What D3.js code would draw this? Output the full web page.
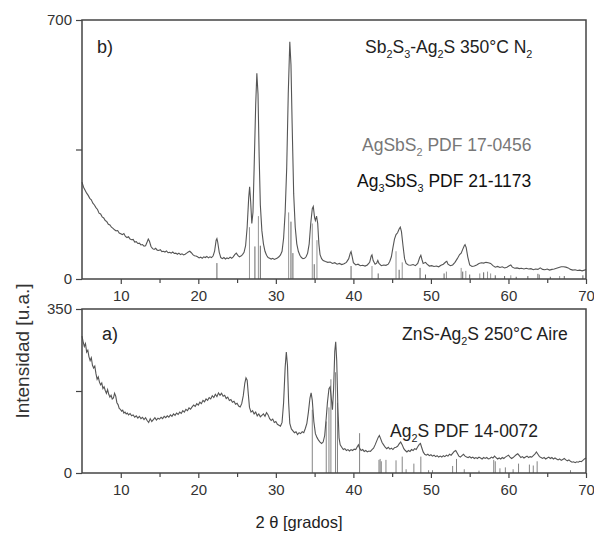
<!DOCTYPE html>
<html>
<head>
<meta charset="utf-8">
<script src="https://cdnjs.cloudflare.com/ajax/libs/d3/7.8.5/d3.min.js"></script>
<style>
  body { margin: 0; background: #fff; }
  svg { font-family: "Liberation Sans", Arial, sans-serif; }
</style>
</head>
<body>
<script>
// tick values
var xMajor = [10, 20, 30, 40, 50, 60, 70];
var xMinor = [15, 25, 35, 45, 55, 65];
var yTicksB = [0, 350, 700];
var yTicksA = [0, 175, 350];

// b) Sb2S3-Ag2S 350C N2  [2theta, counts]
var patternB = [
  [5.0,262],[5.2,248],[5.4,240],[5.6,232],[5.8,226],[6.0,218],[6.2,214],[6.4,205],[6.6,200],[6.8,193],
  [7.0,188],[7.2,178],[7.4,176],[7.6,168],[7.8,165],[8.0,158],[8.2,155],[8.4,148],[8.6,146],[8.8,140],
  [9.0,137],[9.2,133],[9.4,130],[9.6,131],[9.8,124],[10.0,122],[10.2,120],[10.4,123],[10.6,115],[10.8,112],
  [11.0,114],[11.2,108],[11.4,106],[11.6,107],[11.8,100],[12.0,101],[12.2,96],[12.4,97],[12.6,92],[12.8,93],
  [13.0,89],[13.2,90],[13.4,100],[13.55,108],[13.7,102],[13.9,88],[14.1,82],[14.3,80],[14.5,83],[14.7,78],
  [14.9,77],[15.1,79],[15.3,74],[15.5,75],[15.7,73],[15.9,76],[16.1,71],[16.3,72],[16.5,70],[16.7,73],
  [16.9,69],[17.1,70],[17.3,67],[17.5,70],[17.7,66],[17.9,68],[18.1,65],[18.3,67],[18.5,70],[18.7,73],
  [18.9,75],[19.1,71],[19.3,66],[19.5,63],[19.7,62],[19.9,60],[20.1,57],[20.3,59],[20.5,56],[20.7,60],
  [20.9,58],[21.1,61],[21.3,57],[21.5,60],[21.7,58],[21.9,62],[22.1,75],[22.3,105],[22.4,109],[22.5,100],
  [22.7,72],[22.9,58],[23.1,55],[23.3,58],[23.5,54],[23.7,57],[23.9,55],[24.1,59],[24.3,56],[24.5,60],
  [24.7,66],[24.9,70],[25.1,64],[25.3,60],[25.5,62],[25.7,66],[25.9,72],[26.1,90],[26.3,140],[26.5,220],
  [26.62,249],[26.75,210],[26.9,150],[27.05,180],[27.2,300],[27.4,470],[27.55,556],[27.7,500],[27.85,330],[28.0,200],
  [28.2,130],[28.4,95],[28.6,75],[28.8,64],[29.0,58],[29.2,56],[29.4,54],[29.6,56],[29.8,53],[30.0,55],
  [30.2,57],[30.4,60],[30.6,65],[30.8,75],[31.0,110],[31.2,180],[31.4,300],[31.6,500],[31.8,641],[31.95,580],
  [32.1,420],[32.3,230],[32.5,140],[32.7,95],[32.9,75],[33.1,64],[33.3,58],[33.5,55],[33.7,56],[33.9,60],
  [34.1,70],[34.3,95],[34.5,150],[34.7,190],[34.83,196],[35.0,165],[35.1,158],[35.25,170],[35.4,150],[35.55,95],
  [35.7,66],[35.9,55],[36.1,50],[36.4,47],[36.7,45],[37.0,46],[37.3,42],[37.6,44],[37.9,40],[38.2,42],
  [38.5,39],[38.8,41],[39.1,45],[39.4,55],[39.6,70],[39.7,74],[39.85,60],[40.0,44],[40.3,38],[40.6,40],
  [40.9,36],[41.2,37],[41.5,35],[41.8,38],[42.1,45],[42.3,62],[42.4,65],[42.55,50],[42.8,40],[43.0,43],
  [43.15,50],[43.3,42],[43.6,36],[43.9,38],[44.2,37],[44.5,40],[44.7,48],[44.9,60],[45.1,85],[45.3,108],
  [45.5,120],[45.7,125],[45.9,135],[46.05,140],[46.2,128],[46.4,90],[46.6,55],[46.8,42],[47.1,38],[47.4,37],
  [47.7,39],[48.0,36],[48.3,42],[48.55,58],[48.7,64],[48.85,52],[49.0,42],[49.3,45],[49.5,40],[49.8,35],
  [50.1,36],[50.4,34],[50.7,35],[51.0,33],[51.3,37],[51.6,40],[51.9,46],[52.05,48],[52.2,40],[52.5,36],
  [52.8,38],[53.1,45],[53.4,55],[53.7,66],[53.9,70],[54.1,80],[54.3,90],[54.4,93],[54.55,85],[54.75,60],
  [55.0,38],[55.3,34],[55.6,35],[55.9,38],[56.2,42],[56.5,44],[56.8,43],[57.1,45],[57.4,44],[57.7,42],
  [58.0,36],[58.3,32],[58.6,34],[58.9,31],[59.2,33],[59.5,30],[59.8,32],[60.1,36],[60.3,38],[60.5,32],
  [60.8,29],[61.1,30],[61.4,28],[61.7,29],[62.0,27],[62.3,29],[62.6,27],[62.9,28],[63.2,25],[63.5,27],
  [63.8,26],[64.1,30],[64.4,26],[64.7,25],[65.0,27],[65.3,24],[65.6,26],[65.9,27],[66.2,29],[66.5,31],
  [66.8,33],[67.1,33],[67.4,32],[67.7,30],[68.0,26],[68.3,24],[68.6,25],[68.9,23],[69.2,24],[69.5,22],
  [69.8,24],[70.0,26]
];

// a) ZnS-Ag2S 250C Aire
var patternA = [
  [5.0,292],[5.15,280],[5.3,270],[5.45,276],[5.6,258],[5.75,262],[5.9,248],[6.05,240],[6.2,246],[6.35,230],
  [6.5,224],[6.65,228],[6.8,212],[6.95,200],[7.1,205],[7.25,194],[7.4,188],[7.55,192],[7.7,180],[7.85,184],
  [8.0,176],[8.15,170],[8.3,178],[8.45,168],[8.6,162],[8.75,166],[8.9,158],[9.05,160],[9.2,170],[9.35,164],
  [9.5,150],[9.65,146],[9.8,138],[9.95,136],[10.1,132],[10.25,134],[10.4,128],[10.55,130],[10.7,126],[10.85,128],
  [11.0,124],[11.2,127],[11.4,122],[11.6,124],[11.8,119],[12.0,122],[12.2,117],[12.4,121],[12.6,116],[12.8,119],
  [13.0,114],[13.2,118],[13.4,112],[13.6,108],[13.8,116],[14.0,110],[14.2,114],[14.4,118],[14.6,113],[14.8,117],
  [15.0,115],[15.2,119],[15.4,116],[15.6,121],[15.8,118],[16.0,122],[16.2,119],[16.4,124],[16.6,121],[16.8,126],
  [17.0,123],[17.2,128],[17.4,125],[17.6,130],[17.8,127],[18.0,133],[18.2,130],[18.4,136],[18.6,133],[18.8,139],
  [19.0,136],[19.2,141],[19.4,145],[19.6,142],[19.8,148],[20.0,145],[20.2,151],[20.4,148],[20.6,155],[20.8,152],
  [21.0,158],[21.2,155],[21.4,161],[21.6,158],[21.8,165],[22.0,161],[22.2,168],[22.4,163],[22.6,171],[22.8,166],
  [23.0,170],[23.2,164],[23.4,166],[23.6,159],[23.8,162],[24.0,155],[24.2,157],[24.4,151],[24.6,153],[24.8,147],
  [25.0,149],[25.2,143],[25.4,141],[25.6,148],[25.8,165],[26.0,192],[26.15,203],[26.3,198],[26.45,168],[26.6,140],
  [26.8,130],[27.0,133],[27.2,126],[27.4,130],[27.6,122],[27.8,126],[28.0,120],[28.2,123],[28.4,126],[28.6,121],
  [28.8,129],[29.0,124],[29.2,116],[29.4,112],[29.6,115],[29.8,108],[30.0,110],[30.2,104],[30.4,102],[30.6,100],
  [30.8,108],[31.0,150],[31.2,225],[31.35,258],[31.5,230],[31.65,150],[31.8,106],[32.0,94],[32.2,90],[32.4,86],
  [32.6,88],[32.8,82],[33.0,86],[33.2,84],[33.4,88],[33.6,86],[33.8,95],[34.0,106],[34.2,130],[34.4,160],
  [34.55,171],[34.7,155],[34.9,110],[35.1,84],[35.3,76],[35.5,70],[35.7,66],[35.9,63],[36.1,66],[36.3,80],
  [36.5,118],[36.65,150],[36.85,180],[37.0,184],[37.15,160],[37.3,135],[37.45,180],[37.6,260],[37.72,280],[37.85,240],
  [38.0,140],[38.15,75],[38.3,60],[38.5,55],[38.7,50],[38.9,52],[39.1,48],[39.3,50],[39.5,47],[39.7,50],
  [39.9,48],[40.1,51],[40.3,50],[40.5,56],[40.65,60],[40.8,53],[41.0,48],[41.2,50],[41.4,46],[41.6,48],
  [41.8,45],[42.0,47],[42.2,46],[42.4,50],[42.6,53],[42.8,60],[43.0,68],[43.2,76],[43.35,80],[43.5,74],
  [43.7,65],[43.9,60],[44.1,55],[44.3,52],[44.5,55],[44.7,51],[44.9,53],[45.1,50],[45.3,54],[45.5,55],
  [45.7,57],[45.9,62],[46.1,66],[46.3,60],[46.5,52],[46.7,48],[46.9,45],[47.1,48],[47.3,46],[47.5,50],
  [47.7,48],[47.9,52],[48.1,50],[48.3,56],[48.5,61],[48.65,63],[48.8,55],[49.0,45],[49.2,40],[49.4,38],
  [49.6,40],[49.8,37],[50.0,39],[50.2,36],[50.4,38],[50.6,35],[50.8,37],[51.0,34],[51.2,36],[51.4,34],
  [51.6,37],[51.8,35],[52.0,38],[52.2,36],[52.4,40],[52.6,38],[52.8,42],[53.0,46],[53.2,48],[53.4,42],
  [53.6,36],[53.8,34],[54.0,37],[54.2,40],[54.4,36],[54.6,34],[54.8,33],[55.0,35],[55.2,32],[55.4,34],
  [55.6,31],[55.8,33],[56.0,31],[56.2,34],[56.4,32],[56.6,30],[56.8,33],[57.0,31],[57.2,33],[57.4,30],
  [57.6,31],[57.8,34],[58.0,32],[58.2,36],[58.4,33],[58.6,30],[58.8,32],[59.0,30],[59.2,33],[59.4,31],
  [59.6,34],[59.8,36],[60.0,38],[60.2,34],[60.4,31],[60.6,33],[60.8,36],[61.0,39],[61.2,41],[61.4,37],
  [61.6,33],[61.8,35],[62.0,32],[62.2,34],[62.4,36],[62.6,33],[62.8,35],[63.0,34],[63.2,37],[63.4,40],
  [63.6,45],[63.8,40],[64.0,35],[64.2,33],[64.4,31],[64.6,33],[64.8,30],[65.0,32],[65.2,34],[65.4,31],
  [65.6,33],[65.8,30],[66.0,32],[66.2,30],[66.4,28],[66.6,30],[66.8,27],[67.0,29],[67.2,31],[67.4,28],
  [67.6,26],[67.8,28],[68.0,25],[68.2,23],[68.4,24],[68.6,22],[68.8,24],[69.0,23],[69.2,25],[69.4,24],
  [69.6,27],[69.8,30],[70.0,32]
];

// reference sticks [2theta, height]
var sticksAgSbS2 = [
  [26.6,140],[27.75,170],[31.65,180],[34.7,150],[35.3,105],[42.4,35],[45.5,75],[46.3,45],[52.0,20],
  [53.9,30],[54.5,22],[56.3,15],[57.3,20],[57.7,15],[60.3,10],[64.0,12],[66.6,8]
];
var sticksAg3SbS3 = [
  [22.4,43],[27.3,88],[28.0,90],[31.95,155],[32.2,70],[34.95,40],[39.7,35],[43.2,15],[45.9,25],[48.6,30],
  [49.3,12],[51.7,15],[54.1,20],[55.0,12],[56.8,18],[58.3,10],[59.5,8],[61.0,6],[62.5,8],[63.8,14],
  [65.4,6],[67.2,8],[69.6,10]
];
var sticksAg2S = [
  [34.7,135],[36.5,110],[36.85,140],[37.1,200],[37.7,215],[37.95,150],[40.8,85],[43.3,28],[43.45,30],[43.6,25],
  [44.2,28],[45.5,27],[46.3,35],[46.8,8],[47.8,20],[48.7,35],[49.7,6],[50.2,6],[52.8,15],[53.3,30],
  [54.3,8],[56.2,5],[58.1,28],[58.3,25],[58.9,10],[59.6,12],[60.6,8],[61.3,20],[62.7,18],[63.2,16],
  [63.7,25],[68.0,6]
];

function xrdFigure() {
  var self = this;
  var left = 82, right = 586;

  this.init = function() {
    self.svg = d3.select("body").append("svg")
      .attr("width", 594).attr("height", 535);

    self.x = d3.scaleLinear().domain([5, 70]).range([left, right]);

    // top panel b)
    self.drawPanel({top: 20, bottom: 279, max: 700, ticks: yTicksB, data: patternB,
      sticks: [[sticksAgSbS2, "#8a8a8a"], [sticksAg3SbS3, "#555"]]});
    // bottom panel a)
    self.drawPanel({top: 309, bottom: 473, max: 350, ticks: yTicksA, data: patternA,
      sticks: [[sticksAg2S, "#777"]]});

    self.drawLabels();
  };

  this.drawPanel = function(p) {
    var y = d3.scaleLinear().domain([0, p.max]).range([p.bottom, p.top]);
    var g = self.svg.append("g");

    // reference pattern sticks
    p.sticks.forEach(function(s) {
      g.append("g").selectAll("line").data(s[0]).join("line")
        .attr("x1", function(d){ return self.x(d[0]); })
        .attr("x2", function(d){ return self.x(d[0]); })
        .attr("y1", y(0))
        .attr("y2", function(d){ return y(d[1]); })
        .style("stroke", s[1]).style("stroke-width", 0.9);
    });

    var line = d3.line()
      .x(function(d){ return self.x(d[0]); })
      .y(function(d){ return y(d[1]); });
    g.append("path").datum(p.data)
      .attr("d", line)
      .style("fill", "none").style("stroke", "#555").style("stroke-width", 1.1);

    // x axis (major + minor)
    g.append("g").attr("transform", "translate(0," + p.bottom + ")")
      .call(d3.axisBottom(self.x).tickValues(xMajor).tickSize(5).tickSizeOuter(0).tickPadding(6));
    g.append("g").attr("transform", "translate(0," + p.bottom + ")")
      .call(d3.axisBottom(self.x).tickValues(xMinor).tickSize(4).tickSizeOuter(0).tickFormat(""));

    g.append("g").attr("transform", "translate(" + left + ",0)")
      .call(d3.axisLeft(y).tickValues(p.ticks).tickSize(6).tickSizeOuter(0).tickPadding(4)
        .tickFormat(function(d){ return d === p.ticks[1] ? "" : d; }));

    g.selectAll(".domain").remove();
    g.selectAll(".tick line").style("stroke", "#444").style("stroke-width", 1.2);
    g.selectAll(".tick text").style("font-size", "15px").style("fill", "#333")
      .style("font-family", "'Liberation Sans', Arial, sans-serif");

    g.append("rect")
      .attr("x", left).attr("y", p.top)
      .attr("width", right - left).attr("height", p.bottom - p.top)
      .style("fill", "none").style("stroke", "#444").style("stroke-width", 1.5);
  };

  // text with "_n" subscripts
  this.richText = function(str, x, y, size, color) {
    var t = self.svg.append("text").attr("x", x).attr("y", y)
      .style("font-size", size + "px").style("fill", color);
    var parts = str.split(/_(\d)/);
    var shift = 0;
    parts.forEach(function(s, i) {
      if (s === "") return;
      var sub = i % 2 === 1;
      var dy = (sub ? 5 : 0) - shift;
      shift = sub ? 5 : 0;
      t.append("tspan").text(s).attr("dy", dy)
        .style("font-size", sub ? (size * 0.62) + "px" : null);
    });
    return t;
  };

  this.drawLabels = function() {
    self.richText("b)", 97, 53, 18, "#222");
    self.richText("a)", 102, 340, 18, "#222");
    self.richText("Sb_2S_3-Ag_2S 350°C N_2", 365, 53, 17.5, "#222");
    self.richText("AgSbS_2 PDF 17-0456", 362, 151, 17.5, "#777");
    self.richText("Ag_3SbS_3 PDF 21-1173", 357, 187, 17.5, "#111");
    self.richText("ZnS-Ag_2S 250°C Aire", 402, 340, 17.5, "#222");
    self.richText("Ag_2S PDF 14-0072", 390, 437, 17.5, "#222");

    self.svg.append("text")
      .attr("x", 299).attr("y", 528)
      .attr("text-anchor", "middle")
      .style("font-size", "16.5px").style("fill", "#222")
      .text("2 θ [grados]");

    self.svg.append("text")
      .attr("transform", "translate(29,351) rotate(-90)")
      .attr("text-anchor", "middle")
      .style("font-size", "19px").style("fill", "#333")
      .text("Intensidad [u.a.]");
  };

  this.init();
}

var fig = new xrdFigure();
</script>
</body>
</html>
